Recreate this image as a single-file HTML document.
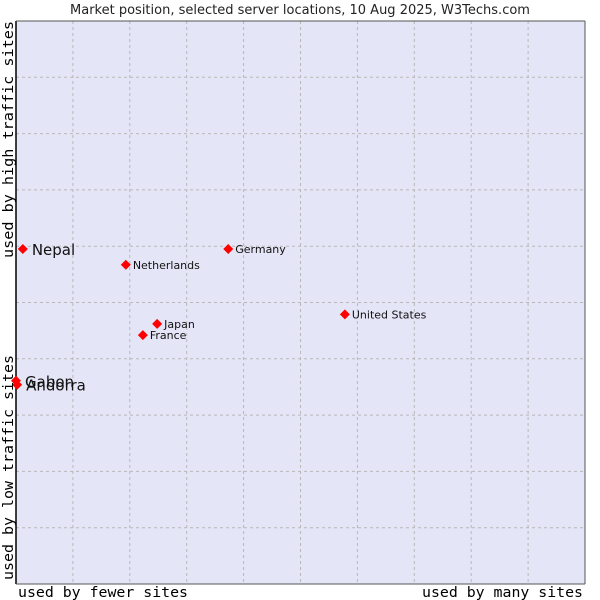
<!DOCTYPE html>
<html><head><meta charset="utf-8"><style>
body{margin:0;background:#fff;width:600px;height:600px;overflow:hidden}
svg{display:block}
.t{font-family:"DejaVu Sans","Liberation Sans",sans-serif}
.m{font-family:"DejaVu Sans Mono","Liberation Mono",monospace;font-size:14px}
</style></head><body>
<svg id="chart" width="600" height="600">
<text class="t" x="300" y="14" font-size="13" text-anchor="middle" fill="#222">Market position, selected server locations, 10 Aug 2025, W3Techs.com</text>
<rect x="16" y="21" width="569" height="563" fill="#e4e6f8"/>
<g id="grid"></g>
<line x1="16" y1="21" x2="16" y2="584" stroke="#000" stroke-width="1.5"/>
<line x1="16" y1="584" x2="585" y2="584" stroke="#555" stroke-width="1"/>
<line x1="585" y1="21" x2="585" y2="584" stroke="#555" stroke-width="1"/>
<line x1="16" y1="21" x2="585" y2="21" stroke="#555" stroke-width="1"/>
<g id="points"></g>
<text class="m" x="18" y="597" textLength="170" lengthAdjust="spacingAndGlyphs">used by fewer sites</text>
<text class="m" x="422" y="597" textLength="161" lengthAdjust="spacingAndGlyphs">used by many sites</text>
<text class="m" transform="translate(13,258) rotate(-90)" textLength="237" lengthAdjust="spacingAndGlyphs">used by high traffic sites</text>
<text class="m" transform="translate(13,580) rotate(-90)" textLength="225" lengthAdjust="spacingAndGlyphs">used by low traffic sites</text>
</svg>
<script>
const countries = ["Nepal","Netherlands","Germany","Japan","France","United States","Gabon","Andorra"];
const xValues = [1.2,19.3,37.3,24.8,22.3,57.8,0.0,0.2];
const yValues = [59.5,56.7,59.5,46.2,44.2,47.9,36.1,35.4];
const bigLabel = [true,false,false,false,false,false,true,true];
const X0=16,X1=585,Y0=584,Y1=21;
const sx=v=>X0+v/100*(X1-X0);
const sy=v=>Y0-v/100*(Y0-Y1);
const NS="http://www.w3.org/2000/svg";
const grid=document.getElementById('grid');
for(let i=1;i<10;i++){
  const lv=document.createElementNS(NS,'line');
  lv.setAttribute('x1',sx(i*10));lv.setAttribute('x2',sx(i*10));
  lv.setAttribute('y1',Y1);lv.setAttribute('y2',Y0);
  lv.setAttribute('stroke','#b8b8b8');lv.setAttribute('stroke-dasharray','3,3');
  
  
  grid.appendChild(lv);
  const lh=document.createElementNS(NS,'line');
  lh.setAttribute('y1',sy(i*10));lh.setAttribute('y2',sy(i*10));
  lh.setAttribute('x1',X0);lh.setAttribute('x2',X1);
  lh.setAttribute('stroke','#b8b8b8');lh.setAttribute('stroke-dasharray','3,3');
  
  
  grid.appendChild(lh);
}
const pts=document.getElementById('points');
countries.forEach((c,i)=>{
  const x=sx(xValues[i]),y=sy(yValues[i]);
  const d=document.createElementNS(NS,'path');
  d.setAttribute('d',`M${x},${y-5}L${x+5},${y}L${x},${y+5}L${x-5},${y}Z`);
  d.setAttribute('fill','#f00');
  
  
  pts.appendChild(d);
  const t=document.createElementNS(NS,'text');
  t.setAttribute('class','t');
  t.setAttribute('x',x+(bigLabel[i]?9:7));
  t.setAttribute('y',y+(bigLabel[i]?6:4));
  t.setAttribute('font-size',bigLabel[i]?15:11);
  t.setAttribute('fill','#111');
  t.textContent=c;
  
  
  pts.appendChild(t);
});
</script>
</body></html>
